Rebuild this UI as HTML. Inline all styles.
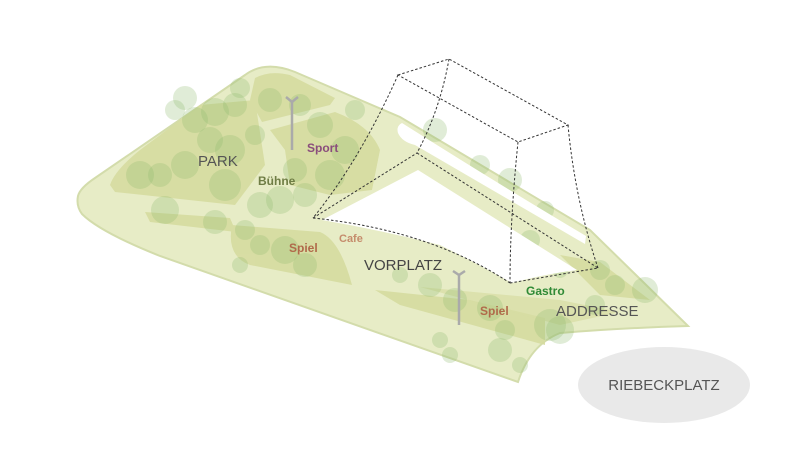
<!DOCTYPE html>
<html><head><meta charset="utf-8"><style>
html,body{margin:0;padding:0;background:#fff;}
svg{display:block;}
text{font-family:"Liberation Sans","DejaVu Sans",sans-serif;}
</style></head><body>
<svg width="800" height="460" viewBox="0 0 800 460" xmlns="http://www.w3.org/2000/svg">
<ellipse cx="664" cy="385" rx="86" ry="38" fill="#e9e9e9"/>
<text x="664" y="390" font-size="15" fill="#555" text-anchor="middle">RIEBECKPLATZ</text>

<!-- base shape -->
<path d="M78,196 Q80,188 95,178 L245,75 Q265,60 295,72 Q360,100 400,117 L590,230 L688,326 Q620,328 560,333 Q530,345 518,382 L160,256 Q100,232 82,214 Q76,206 78,196 Z" fill="#e7ecc6" stroke="#d3dcab" stroke-width="2"/>

<!-- inner greens -->
<g fill="#d6dca0" opacity="0.9">
<path d="M110,185 Q115,170 140,150 L200,105 L255,100 L265,165 L235,205 L115,192 Z"/>
<path d="M255,78 Q270,70 290,75 L335,98 L330,105 L262,122 L250,100 Z"/>
<path d="M270,130 L335,112 Q370,125 380,150 L372,190 L330,195 L290,185 L285,150 Z"/>
<path d="M145,212 L230,218 L236,232 L150,222 Z"/>
<path d="M232,225 L320,232 Q340,240 352,285 L250,265 Q226,256 232,225 Z"/>
<path d="M375,290 L470,300 L545,318 L545,345 L400,305 Z"/>
<path d="M420,287 L560,300 L620,312 L560,325 Z" opacity="0.7"/>
<path d="M560,255 L600,262 L650,300 L600,295 Z"/>
</g>

<!-- trees -->
<g fill="#8fbc6f" fill-opacity="0.28">
<circle cx="185" cy="98" r="12"/><circle cx="195" cy="120" r="13"/><circle cx="175" cy="110" r="10"/>
<circle cx="215" cy="112" r="14"/><circle cx="235" cy="105" r="12"/><circle cx="240" cy="88" r="10"/>
<circle cx="210" cy="140" r="13"/><circle cx="185" cy="165" r="14"/><circle cx="160" cy="175" r="12"/>
<circle cx="140" cy="175" r="14"/><circle cx="230" cy="150" r="15"/><circle cx="225" cy="185" r="16"/>
<circle cx="255" cy="135" r="10"/><circle cx="260" cy="205" r="13"/><circle cx="280" cy="200" r="14"/>
<circle cx="305" cy="195" r="12"/><circle cx="330" cy="175" r="15"/><circle cx="345" cy="150" r="14"/>
<circle cx="320" cy="125" r="13"/><circle cx="355" cy="110" r="10"/><circle cx="295" cy="170" r="12"/>
<circle cx="270" cy="100" r="12"/><circle cx="300" cy="105" r="11"/><circle cx="165" cy="210" r="14"/>
<circle cx="215" cy="222" r="12"/><circle cx="245" cy="230" r="10"/><circle cx="260" cy="245" r="10"/>
<circle cx="285" cy="250" r="14"/><circle cx="305" cy="265" r="12"/><circle cx="240" cy="265" r="8"/>
<circle cx="435" cy="130" r="12"/><circle cx="480" cy="165" r="10"/><circle cx="510" cy="180" r="12"/>
<circle cx="545" cy="210" r="9"/><circle cx="530" cy="240" r="10"/>
<circle cx="430" cy="285" r="12"/><circle cx="455" cy="300" r="12"/><circle cx="440" cy="340" r="8"/>
<circle cx="450" cy="355" r="8"/><circle cx="500" cy="350" r="12"/><circle cx="505" cy="330" r="10"/>
<circle cx="520" cy="365" r="8"/><circle cx="490" cy="308" r="13"/><circle cx="550" cy="325" r="16"/>
<circle cx="560" cy="330" r="14"/><circle cx="600" cy="270" r="10"/><circle cx="615" cy="285" r="10"/>
<circle cx="645" cy="290" r="13"/><circle cx="560" cy="270" r="8"/><circle cx="595" cy="305" r="10"/>
<circle cx="400" cy="275" r="8"/>
</g>

<!-- white voids -->
<path d="M322,220 L418,170 L577,270 Q540,275 512,283 Q480,265 440,245 Q380,230 322,220 Z" fill="#fff"/>
<path d="M402,123 Q396,126 398,133 Q402,142 415,145 L585,244 L586,236 Q500,185 402,123 Z" fill="#fff"/>

<!-- lamp posts -->
<g stroke="#aaa" stroke-width="2.5" fill="none">
<line x1="292" y1="102" x2="292" y2="150"/><path d="M286,97 L292,102 L298,97"/>
<line x1="459" y1="275" x2="459" y2="325"/><path d="M453,271 L459,275 L465,271"/>
</g>

<!-- dashed box -->
<g stroke="#333" stroke-width="1" stroke-dasharray="2.5,2" fill="none">
<path d="M398,75 L449,59 L568,125 L518,142 Z"/>
<path d="M398,75 Q360,160 313,218"/>
<path d="M449,59 Q440,110 417,153"/>
<path d="M417,153 L598,268"/>
<path d="M313,218 L417,153"/>
<path d="M313,218 Q430,230 510,283"/>
<path d="M518,142 Q510,220 510,283"/>
<path d="M568,125 Q575,200 598,268"/>
<path d="M510,283 L598,268"/>
</g>

<!-- labels -->
<text x="198" y="166" font-size="15" fill="#555">PARK</text>
<text x="307" y="152" font-size="12" font-weight="bold" fill="#8a4d7c">Sport</text>
<text x="258" y="185" font-size="12" font-weight="bold" fill="#6f7d45">Bühne</text>
<text x="289" y="252" font-size="12" font-weight="bold" fill="#b06a4a">Spiel</text>
<text x="339" y="242" font-size="11" font-weight="bold" fill="#c58c6c">Cafe</text>
<text x="364" y="270" font-size="15" fill="#444">VORPLATZ</text>
<text x="526" y="295" font-size="12" font-weight="bold" fill="#2f8a36">Gastro</text>
<text x="480" y="315" font-size="12" font-weight="bold" fill="#b06a4a">Spiel</text>
<text x="556" y="316" font-size="15" fill="#555">ADDRESSE</text>
</svg>
</body></html>
